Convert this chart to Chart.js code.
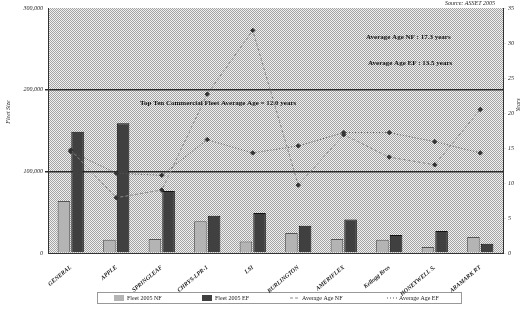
<!DOCTYPE html>
<html>
<head>
<meta charset="utf-8">
<script src="https://cdn.jsdelivr.net/npm/chart.js@4.4.0/dist/chart.umd.min.js"></script>
<style>
  html, body { margin: 0; padding: 0; background: #ffffff; }
  #wrap { width: 528px; height: 313px; position: relative; }
</style>
</head>
<body>
<div id="wrap"><canvas id="fleetChart"></canvas></div>
<script>
// Data
const categories = ['GENERAL', 'APPLE', 'SPRINGLEAF', 'CHRYS-LPR-1', 'LSI', 'BURLINGTON', 'AMERIFLEX', 'Kellogg Bros', 'HONEYWELL S.', 'ARAMARK RT'];
const fleetNF = [63700, 16300, 17000, 39000, 14000, 24500, 17000, 16300, 7300, 19600];
const fleetEF = [148600, 159000, 76000, 45700, 49000, 33500, 41000, 22000, 27000, 11400];
const ageNF = [14.7, 7.9, 9.0, 22.7, 31.8, 9.7, 16.9, 13.7, 12.6, 20.5];
const ageEF = [14.5, 11.4, 11.1, 16.2, 14.3, 15.3, 17.2, 17.2, 15.9, 14.3];
const leftTicks = [0, 100000, 200000, 300000];
const rightTicks = [0, 5, 10, 15, 20, 25, 30, 35];
const legendLabels = ['Fleet 2005 NF', 'Fleet 2005 EF', 'Average Age NF', 'Average Age EF'];
const notes = ['Average Age NF : 17.3 years', 'Average Age EF : 13.5 years', 'Top Ten Commercial Fleet Average Age = 12.0 years'];

const serif = '"Liberation Serif", "DejaVu Serif", serif';

// halftone-like background for the plot area
function makePattern(ctx) {
    const c = document.createElement('canvas');
    c.width = 2; c.height = 2;
    const p = c.getContext('2d');
    p.fillStyle = '#f0f0f0';
    p.fillRect(0, 0, 2, 2);
    p.fillStyle = '#a4a4a4';
    p.fillRect(0, 0, 1, 1);
    p.fillRect(1, 1, 1, 1);
    return ctx.createPattern(c, 'repeat');
}

const decorPlugin = {
    id: 'decor',
    beforeDraw(chart) {
        const {ctx, chartArea: a} = chart;
        ctx.save();
        ctx.fillStyle = makePattern(ctx);
        ctx.fillRect(a.left, a.top, a.right - a.left, a.bottom - a.top);
        ctx.restore();
    },
    afterDatasetsDraw(chart) {
        const {ctx, chartArea: a} = chart;
        ctx.save();
        ctx.font = 'bold 7px ' + serif;
        ctx.fillStyle = '#111';
        ctx.textBaseline = 'middle';
        ctx.fillText(notes[0], a.left + 318, a.top + 29);
        ctx.fillText(notes[1], a.left + 320, a.top + 55);
        ctx.fillText(notes[2], a.left + 92, a.top + 95);
        ctx.restore();
    },
    afterDraw(chart) {
        const {ctx, chartArea: a} = chart;
        ctx.save();
        // source note
        ctx.font = 'italic 6px ' + serif;
        ctx.fillStyle = '#222';
        ctx.textAlign = 'right';
        ctx.textBaseline = 'middle';
        ctx.fillText('Source: ASSET 2005', a.right - 8, 3);
        // axis titles
        ctx.font = 'italic 6px ' + serif;
        ctx.textAlign = 'center';
        ctx.translate(8, 112);
        ctx.rotate(-Math.PI / 2);
        ctx.fillText('Fleet Size', 0, 0);
        ctx.setTransform(1, 0, 0, 1, 0, 0);
        ctx.translate(518, 105);
        ctx.rotate(-Math.PI / 2);
        ctx.fillText('Years', 0, 0);
        ctx.setTransform(1, 0, 0, 1, 0, 0);
        // legend box
        const bx = 97, by = 292, bw = 364, bh = 11;
        ctx.strokeStyle = '#333';
        ctx.setLineDash([1, 1]);
        ctx.lineWidth = 1;
        ctx.strokeRect(bx + 0.5, by + 0.5, bw, bh);
        ctx.setLineDash([]);
        ctx.font = '6px ' + serif;
        ctx.textAlign = 'left';
        const xs = [127, 215, 302, 399];
        chart.data.datasets.forEach((ds, i) => {
            const x = xs[i], y = by + 6;
            if (ds.type === 'line') {
                ctx.strokeStyle = ds.borderColor;
                ctx.setLineDash(ds.borderDash || []);
                ctx.beginPath();
                ctx.moveTo(x - 12, y);
                ctx.lineTo(x - 2, y);
                ctx.stroke();
                ctx.setLineDash([]);
            } else {
                ctx.fillStyle = ds.backgroundColor;
                ctx.fillRect(x - 13, y - 3, 10, 6);
            }
            ctx.fillStyle = '#222';
            ctx.fillText(ds.label, x, y);
        });
        ctx.restore();
    }
};

const config = {
    data: {
        labels: categories,
        datasets: [
            {
                type: 'bar',
                label: legendLabels[0],
                data: fleetNF,
                backgroundColor: '#b4b4b4',
                borderColor: '#555',
                borderWidth: 1,
                yAxisID: 'y',
                order: 2
            },
            {
                type: 'bar',
                label: legendLabels[1],
                data: fleetEF,
                backgroundColor: '#404040',
                borderColor: '#111',
                borderWidth: 1,
                yAxisID: 'y',
                order: 2
            },
            {
                type: 'line',
                label: legendLabels[2],
                data: ageNF,
                borderColor: '#8a8a8a',
                borderWidth: 1,
                borderDash: [3, 2],
                pointStyle: 'rectRot',
                pointRadius: 2.2,
                pointBackgroundColor: '#333',
                pointBorderColor: '#333',
                tension: 0,
                yAxisID: 'y1',
                order: 1
            },
            {
                type: 'line',
                label: legendLabels[3],
                data: ageEF,
                borderColor: '#555',
                borderWidth: 1,
                borderDash: [1, 2],
                pointStyle: 'rectRot',
                pointRadius: 2.2,
                pointBackgroundColor: '#333',
                pointBorderColor: '#333',
                tension: 0,
                yAxisID: 'y1',
                order: 1
            }
        ]
    },
    options: {
        responsive: true,
        maintainAspectRatio: false,
        animation: false,
        layout: { padding: { top: 8, left: 0, right: 0, bottom: 0 } },
        datasets: {
            bar: { categoryPercentage: 0.6, barPercentage: 0.92 }
        },
        plugins: {
            legend: { display: false },
            tooltip: { enabled: false }
        },
        scales: {
            x: {
                grid: { display: false },
                border: { color: '#333' },
                ticks: {
                    minRotation: 40,
                    maxRotation: 40,
                    autoSkip: false,
                    color: '#222',
                    padding: 3,
                    font: { family: serif, size: 6, style: 'italic', weight: 'bold' }
                },
                afterFit(scale) { scale.height = 60; }
            },
            y: {
                position: 'left',
                min: 0,
                max: 300000,
                afterBuildTicks(scale) { scale.ticks = leftTicks.map(v => ({value: v})); },
                grid: {
                    color: ctx => (ctx.tick && (ctx.tick.value === 100000 || ctx.tick.value === 200000)) ? '#2a2a2a' : 'rgba(0,0,0,0)',
                    lineWidth: 1.5,
                    drawTicks: true,
                    tickLength: 3
                },
                border: { color: '#333' },
                ticks: {
                    color: '#222',
                    padding: 2,
                    font: { family: serif, size: 6, style: 'italic' },
                    callback: v => v.toLocaleString('en-US')
                },
                afterFit(scale) { scale.width = 48; }
            },
            y1: {
                position: 'right',
                min: 0,
                max: 35,
                afterBuildTicks(scale) { scale.ticks = rightTicks.map(v => ({value: v})); },
                grid: { drawOnChartArea: false, tickLength: 3 },
                border: { color: '#333' },
                ticks: {
                    color: '#222',
                    padding: 2,
                    font: { family: serif, size: 6, style: 'italic' }
                },
                afterFit(scale) { scale.width = 25; }
            }
        }
    },
    plugins: [decorPlugin]
};

const ctx = document.getElementById('fleetChart').getContext('2d');
const fleetChart = new Chart(ctx, config);
</script>
</body>
</html>
